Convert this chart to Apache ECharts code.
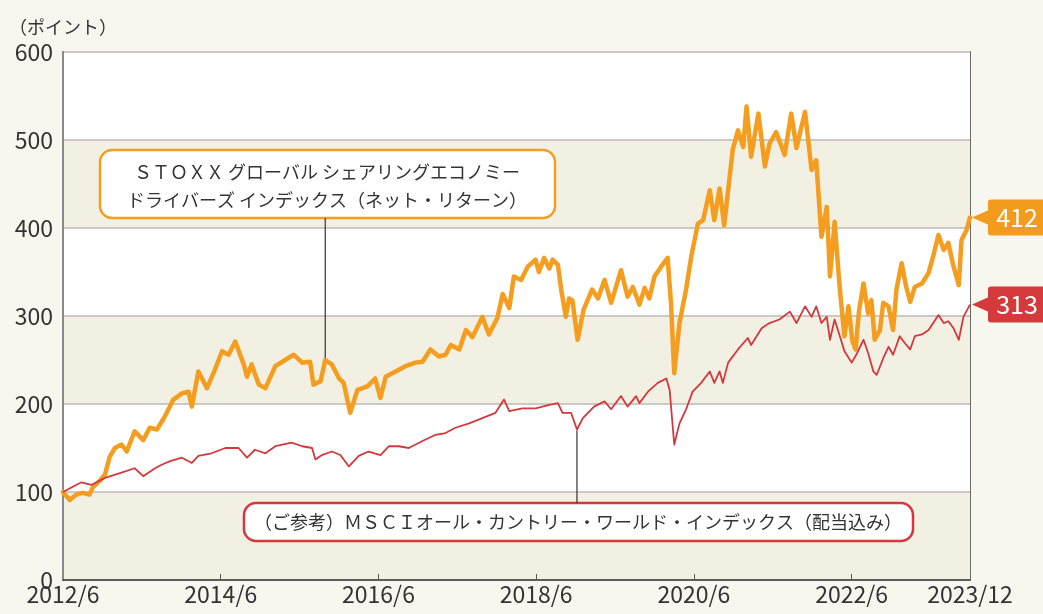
<!DOCTYPE html>
<html>
<head>
<meta charset="utf-8">
<script src="https://cdn.jsdelivr.net/npm/echarts@6.0.0/dist/echarts.min.js"></script>
<style>
  html, body { margin: 0; padding: 0; background: #f8f7ef; }
  #chart { width: 1043px; height: 614px; }
</style>
</head>
<body>
<div id="chart"></div>
<script>
// months counted from 2012/6 (0) to 2023/12 (138)
const tickMonths = [0, 24, 48, 72, 96, 120, 138];
const tickLabels = ['2012/6', '2014/6', '2016/6', '2018/6', '2020/6', '2022/6', '2023/12'];

// STOXX グローバル シェアリングエコノミー ドライバーズ インデックス
const stoxxMonths = [
  0, 1, 2, 3, 4, 4.6, 5.5, 6.4, 7.1, 7.9,
  8.9, 9.7, 10.9, 12.2, 13.2, 14.3, 15.5, 16.8, 18.1, 19.1,
  19.6, 20.6, 21.9, 22.9, 24.2, 25.2, 26.2, 27.5, 28, 28.7,
  29.8, 30.8, 32.3, 33.8, 35.1, 36.4, 37.6, 38.1, 39.2, 39.9,
  40.9, 42, 42.7, 43.7, 44.8, 46.3, 47.5, 48.3, 49.1, 50.6,
  52.1, 53.6, 54.7, 55.9, 57.2, 58.2, 59, 60.3, 61.3, 62.3,
  63.8, 64.8, 66.1, 66.9, 67.9, 68.6, 69.7, 70.7, 71.9, 72.4,
  73.2, 74, 74.5, 75.3, 75.8, 76.5, 77, 77.5, 78.3, 79.2,
  80.5, 81.4, 82.4, 83.4, 84.9, 85.9, 86.7, 87.7, 88.5, 89.2,
  90, 91, 92, 92.5, 93, 93.8, 94.8, 95.6, 96.6, 97.4,
  98.4, 99.1, 99.9, 100.6, 101.2, 101.9, 102.7, 103.5, 104, 104.7,
  105.8, 106.8, 107.5, 108.5, 109.8, 110.8, 111.6, 112.9, 113.9, 114.6,
  115.4, 116.2, 116.7, 117.4, 118.2, 118.9, 119.5, 120.1, 120.6, 121.1,
  121.8, 122.5, 123, 123.5, 124.3, 124.8, 125.6, 126.3, 126.8, 127.6,
  128.3, 128.9, 129.6, 130.7, 131.7, 132.4, 133.2, 134, 134.7, 135.5,
  136.3, 136.7, 137.5, 138
];
const stoxxValues = [
  100, 91, 97, 99, 97, 106, 112, 120, 140, 150,
  154, 146, 169, 159, 173, 171, 186, 205, 212, 214,
  197, 237, 218, 235, 260, 256, 271, 245, 231, 245,
  222, 218, 243, 250, 256, 247, 248, 222, 226, 250,
  245, 229, 224, 190, 216, 220, 229, 207, 231, 237,
  243, 247, 248, 262, 254, 256, 267, 262, 284, 276,
  299, 279, 298, 325, 309, 345, 341, 356, 364, 350,
  366, 354, 364, 358, 330, 299, 320, 318, 273, 307,
  330, 320, 341, 315, 352, 322, 333, 313, 332, 320,
  345, 356, 366, 315, 235, 292, 330, 368, 405, 409,
  443, 409, 445, 403, 443, 489, 511, 492, 538, 481,
  530, 470, 496, 509, 483, 530, 491, 532, 466, 477,
  390, 424, 345, 407, 330, 277, 311, 272, 262, 305,
  337, 303, 318, 273, 284, 315, 311, 284, 330, 360,
  333, 316, 333, 337, 349, 368, 392, 375, 383, 356,
  335, 386, 398, 412
];

// MSCI オール・カントリー・ワールド・インデックス
const msciMonths = [
  0, 1.5, 2.8, 4.3, 6.4, 8.9, 10.9, 12.2, 14, 15,
  16.3, 18.1, 19.6, 20.6, 22.6, 24.7, 26.7, 28, 29.2, 30.8,
  32.3, 34.8, 36.4, 37.9, 38.4, 39.4, 40.9, 42.2, 43.5, 45,
  46.5, 48.3, 49.6, 51.1, 52.6, 54.7, 56.7, 58.2, 59.7, 61.8,
  63.8, 65.8, 67.1, 67.9, 69.9, 71.9, 74, 75.3, 76, 77.3,
  78.2, 79.1, 80.8, 82.4, 83.4, 84.9, 85.9, 87.2, 87.7, 89,
  90.5, 91.8, 92.3, 93, 93.8, 94.8, 95.8, 97.1, 98.4, 99.1,
  99.9, 100.4, 101.2, 102.7, 104.2, 104.7, 106.3, 107.5, 109, 110.6,
  111.6, 112.9, 113.9, 114.6, 115.4, 116.2, 116.7, 117.4, 118.2, 118.9,
  120, 120.7, 121.8, 122.5, 123.3, 123.8, 124.8, 125.6, 126.3, 127.3,
  128.1, 128.9, 129.6, 130.7, 131.7, 132.4, 133.2, 134, 134.7, 135.5,
  136.3, 137, 138
];
const msciValues = [
  100, 106, 111, 108, 116, 122, 127, 118, 127, 131,
  135, 139, 133, 141, 144, 150, 150, 139, 148, 144,
  152, 156, 152, 150, 137, 142, 146, 142, 129, 141,
  146, 142, 152, 152, 150, 158, 165, 167, 173, 178,
  184, 190, 205, 192, 195, 195, 199, 201, 190, 190,
  171, 184, 197, 203, 194, 209, 197, 209, 201, 214,
  224, 229, 216, 154, 178, 194, 214, 224, 237, 224,
  237, 224, 247, 262, 275, 267, 286, 292, 296, 305,
  292, 311, 299, 311, 292, 299, 273, 296, 277, 260,
  247, 256, 273, 258, 237, 233, 252, 265, 256, 277,
  269, 262, 277, 279, 284, 292, 301, 292, 294, 286,
  273, 299, 313
];

const ORANGE = '#f59d1e';
const RED = '#d3393c';
const FONT = '"Noto Sans CJK JP", "Noto Sans", sans-serif';

const pairs = (xs, ys) => xs.map((m, i) => [m, ys[i]]);

const chart = echarts.init(document.getElementById('chart'));

chart.setOption({
  backgroundColor: '#f8f7ef',
  animation: false,
  textStyle: { fontFamily: FONT },
  grid: {
    left: 63, right: 73, top: 52, bottom: 34,
    show: true, borderColor: '#3a3a3a', borderWidth: 1.5,
    backgroundColor: 'transparent'
  },
  xAxis: {
    type: 'value',
    min: 0, max: 138,
    axisLine: { show: true, lineStyle: { color: '#3a3a3a', width: 1.5 } },
    axisTick: {
      show: true, inside: true, length: 6,
      customValues: tickMonths.slice(1, -1),
      lineStyle: { color: '#555', width: 1 }
    },
    axisLabel: {
      customValues: tickMonths,
      formatter: (v) => tickLabels[tickMonths.indexOf(v)] || '',
      color: '#333', fontSize: 23, margin: 3, fontFamily: FONT
    },
    splitLine: { show: false }
  },
  yAxis: {
    type: 'value',
    min: 0, max: 600, interval: 100,
    name: '（ポイント）',
    nameLocation: 'end',
    nameGap: 16,
    nameTextStyle: { color: '#333', fontSize: 18, fontFamily: FONT, align: 'center' },
    axisLine: { show: true, lineStyle: { color: '#8a8a8a', width: 2 } },
    axisTick: { show: false },
    axisLabel: { color: '#333', fontSize: 23, margin: 10, fontFamily: FONT },
    splitLine: { show: true, lineStyle: { color: '#c9c9c6', width: 2 } },
    splitArea: { show: true, areaStyle: { color: ['#f2efe3', '#ffffff'] } }
  },
  series: [
    {
      name: 'STOXX',
      type: 'line',
      data: pairs(stoxxMonths, stoxxValues),
      showSymbol: false,
      lineStyle: { color: ORANGE, width: 4.5, join: 'round', cap: 'round' },
      z: 2
    },
    {
      name: 'MSCI',
      type: 'line',
      data: pairs(msciMonths, msciValues),
      showSymbol: false,
      lineStyle: { color: RED, width: 1.8, join: 'round' },
      z: 3
    }
  ]
});

function endLabel(xs, ys, color) {
  const n = xs.length - 1;
  const p = chart.convertToPixel({ xAxisIndex: 0, yAxisIndex: 0 }, [xs[n], ys[n]]);
  const tx = p[0] + 2, ty = p[1];
  return {
    type: 'group',
    children: [
      { type: 'polygon', shape: { points: [[tx, ty], [tx + 18, ty - 8], [tx + 18, ty + 8]] }, style: { fill: color } },
      { type: 'rect', shape: { x: tx + 16, y: ty - 18, width: 64, height: 36, r: 3 }, style: { fill: color } },
      { type: 'text', x: tx + 45, y: ty, style: { text: String(ys[n]), fill: '#fff', font: '25px ' + FONT, align: 'center', verticalAlign: 'middle' } }
    ]
  };
}

function pointPx(xs, ys, month) {
  const i = xs.indexOf(month);
  return chart.convertToPixel({ xAxisIndex: 0, yAxisIndex: 0 }, [xs[i], ys[i]]);
}

const oAnchor = pointPx(stoxxMonths, stoxxValues, 39.9);
const rAnchor = pointPx(msciMonths, msciValues, 78.2);

chart.setOption({
  graphic: [
    // leader lines
    { type: 'line', shape: { x1: oAnchor[0], y1: 218, x2: oAnchor[0], y2: oAnchor[1] - 2 }, style: { stroke: '#333', lineWidth: 1.2 }, z: 10 },
    { type: 'line', shape: { x1: rAnchor[0], y1: 503, x2: rAnchor[0], y2: rAnchor[1] + 1 }, style: { stroke: '#333', lineWidth: 1.2 }, z: 10 },
    // STOXX annotation box
    {
      type: 'group', z: 11,
      children: [
        { type: 'rect', shape: { x: 100, y: 150, width: 455, height: 68, r: 12 }, style: { fill: '#fff', stroke: ORANGE, lineWidth: 2.5 } },
        { type: 'text', x: 327, y: 172, style: { text: 'ＳＴＯＸＸ グローバル シェアリングエコノミー', fill: '#333', font: '18px ' + FONT, align: 'center', verticalAlign: 'middle' } },
        { type: 'text', x: 327, y: 200, style: { text: 'ドライバーズ インデックス（ネット・リターン）', fill: '#333', font: '18px ' + FONT, align: 'center', verticalAlign: 'middle' } }
      ]
    },
    // MSCI annotation box
    {
      type: 'group', z: 11,
      children: [
        { type: 'rect', shape: { x: 244, y: 503, width: 669, height: 38, r: 12 }, style: { fill: '#fff', stroke: RED, lineWidth: 2.5 } },
        { type: 'text', x: 578, y: 522, style: { text: '（ご参考）ＭＳＣＩオール・カントリー・ワールド・インデックス（配当込み）', fill: '#333', font: '18px ' + FONT, align: 'center', verticalAlign: 'middle' } }
      ]
    },
    endLabel(stoxxMonths, stoxxValues, '#f39b1d'),
    endLabel(msciMonths, msciValues, '#d43a3c')
  ]
});
</script>
</body>
</html>
